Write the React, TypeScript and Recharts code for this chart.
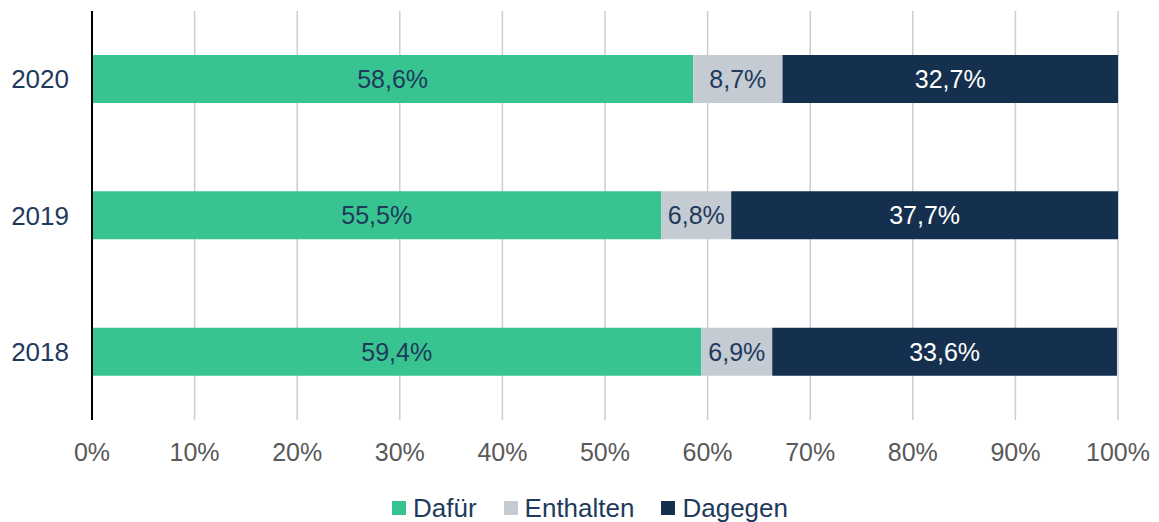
import { BarChart, Bar, XAxis, YAxis, CartesianGrid, LabelList, Legend } from 'recharts';

const years = ['2020', '2019', '2018'];
const dafuer = [58.6, 55.5, 59.4];
const enthalten = [8.7, 6.8, 6.9];
const dagegen = [32.7, 37.7, 33.6];
const xTicks = [0, 10, 20, 30, 40, 50, 60, 70, 80, 90, 100];

const FONT = '"Liberation Sans", Arial, sans-serif';
const NAVY_TEXT = '#1E3A5C';

const series = [
  { key: 'dafuer', name: 'Dafür', color: '#38C490', label: NAVY_TEXT },
  { key: 'enthalten', name: 'Enthalten', color: '#C4CBD2', label: NAVY_TEXT },
  { key: 'dagegen', name: 'Dagegen', color: '#15304E', label: '#FFFFFF' },
];

const data = years.map((year, i) => ({
  year,
  dafuer: dafuer[i],
  enthalten: enthalten[i],
  dagegen: dagegen[i],
}));

const fmt = (v: any) => Number(v).toFixed(1).replace('.', ',') + '%';

function LegendBox() {
  return (
    <div
      style={{
        height: 47,
        boxSizing: 'border-box',
        paddingTop: 18,
        paddingLeft: 50,
        display: 'flex',
        justifyContent: 'center',
        gap: 27,
        fontFamily: FONT,
        fontSize: 26,
        lineHeight: '26px',
        color: NAVY_TEXT,
      }}
    >
      {series.map((s) => (
        <div key={s.key} style={{ display: 'flex', alignItems: 'center', gap: 7 }}>
          <span style={{ width: 14, height: 14, background: s.color, display: 'inline-block' }} />
          <span>{s.name}</span>
        </div>
      ))}
    </div>
  );
}

export default function App() {
  return (
    <div style={{ position: 'absolute', left: 0, top: 0, background: '#fff' }}>
      <BarChart
        width={1159}
        height={522}
        data={data}
        layout="vertical"
        margin={{ top: 11, right: 41, left: 12, bottom: 0 }}
        barSize={48}
      >
        <CartesianGrid horizontal={false} stroke="#C8CED5" strokeWidth={1.5} />
        <XAxis
          type="number"
          domain={[0, 100]}
          ticks={xTicks}
          tickFormatter={(v) => `${v}%`}
          axisLine={false}
          tickLine={false}
          tickSize={0}
          tickMargin={23}
          height={55}
          tick={{ fill: '#595959', fontSize: 25, fontFamily: FONT }}
        />
        <YAxis
          type="category"
          dataKey="year"
          width={80}
          axisLine={{ stroke: '#000', strokeWidth: 2 }}
          tickLine={false}
          tickSize={0}
          tickMargin={23}
          tick={{ fill: NAVY_TEXT, fontSize: 26, fontFamily: FONT }}
        />
        <Legend verticalAlign="bottom" content={() => <LegendBox />} />
        {series.map((s) => (
          <Bar key={s.key} dataKey={s.key} name={s.name} stackId="a" fill={s.color} isAnimationActive={false}>
            <LabelList
              dataKey={s.key}
              position="center"
              formatter={fmt}
              fill={s.label}
              style={{ fontSize: 25, fontFamily: FONT }}
            />
          </Bar>
        ))}
      </BarChart>
    </div>
  );
}
